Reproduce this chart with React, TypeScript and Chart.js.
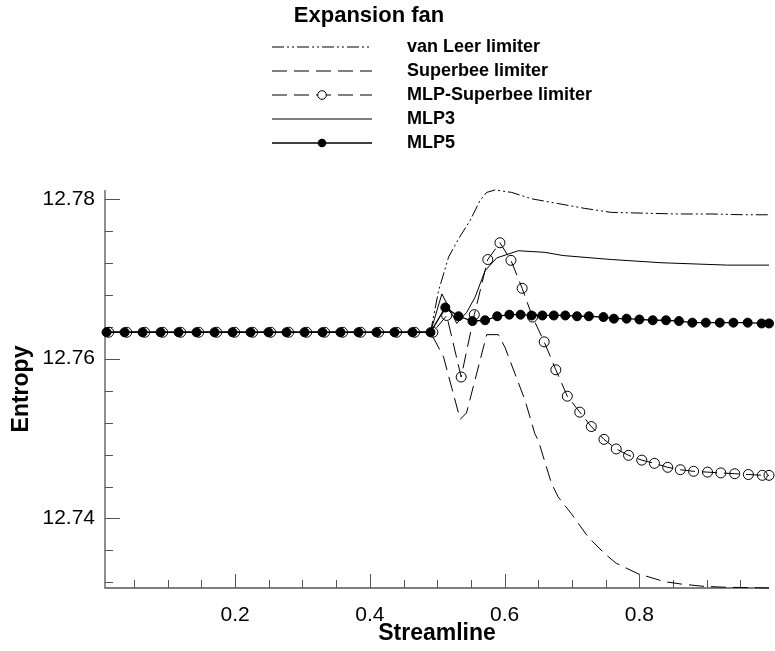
import React, { useEffect, useRef } from 'react';
import { Chart, registerables } from 'chart.js';

Chart.register(...registerables);

const FONT = '"Liberation Sans", Arial, Helvetica, sans-serif';

const TITLE = 'Expansion fan';
const X_TITLE = 'Streamline';
const Y_TITLE = 'Entropy';

const SERIES_NAMES = ['van Leer limiter', 'Superbee limiter', 'MLP-Superbee limiter', 'MLP3', 'MLP5'];

// van Leer limiter
const vanLeerX = [0.007, 0.49, 0.502, 0.5168, 0.5316, 0.5489, 0.5636, 0.5734, 0.5858, 0.6103, 0.64, 0.6794, 0.7188, 0.7582, 0.8075, 0.8568, 0.906, 0.9553, 0.9923];
const vanLeerY = [12.7633, 12.7633, 12.7685, 12.7727, 12.775, 12.7773, 12.7798, 12.7808, 12.7811, 12.7808, 12.78, 12.7794, 12.7788, 12.7783, 12.7782, 12.7781, 12.7781, 12.778, 12.778];

// Superbee limiter
const superbeeX = [0.007, 0.49, 0.5094, 0.534, 0.5434, 0.5734, 0.5907, 0.6006, 0.6154, 0.6302, 0.6449, 0.6498, 0.6695, 0.6794, 0.699, 0.7237, 0.7484, 0.7655, 0.7976, 0.837, 0.8616, 0.8962, 0.9258, 0.9923];
const superbeeY = [12.7633, 12.7633, 12.7602, 12.7524, 12.7532, 12.763, 12.763, 12.7614, 12.7581, 12.7548, 12.7506, 12.7498, 12.7444, 12.7427, 12.7406, 12.7377, 12.7356, 12.7344, 12.7331, 12.7321, 12.7318, 12.7315, 12.7314, 12.7313];

// MLP-Superbee limiter
const mlpSbX = [0.0125, 0.0392, 0.0659, 0.0926, 0.1193, 0.146, 0.1727, 0.1994, 0.2261, 0.2528, 0.2795, 0.3062, 0.3329, 0.3596, 0.3863, 0.413, 0.4397, 0.4664, 0.4935,
  0.514, 0.5355, 0.555, 0.575, 0.593, 0.6094, 0.626, 0.6414, 0.6587, 0.676, 0.693, 0.7115, 0.7286, 0.7474, 0.7656, 0.7839, 0.8035, 0.8223, 0.842, 0.8607, 0.8804, 0.9011, 0.9208, 0.9415, 0.9617, 0.9824, 0.9923];
const mlpSbY = [12.7633, 12.7633, 12.7633, 12.7633, 12.7633, 12.7633, 12.7633, 12.7633, 12.7633, 12.7633, 12.7633, 12.7633, 12.7633, 12.7633, 12.7633, 12.7633, 12.7633, 12.7633, 12.7633,
  12.7654, 12.7577, 12.7655, 12.7724, 12.7745, 12.7723, 12.7688, 12.7652, 12.7621, 12.7586, 12.7553, 12.7533, 12.7515, 12.7499, 12.7487, 12.7479, 12.7473, 12.7469, 12.7464, 12.7461, 12.7459, 12.7458, 12.7457, 12.7456, 12.7455, 12.7454, 12.7454];

// MLP3
const mlp3X = [0.007, 0.49, 0.5069, 0.529, 0.5438, 0.5562, 0.571, 0.5882, 0.6202, 0.6597, 0.6868, 0.7582, 0.832, 0.9307, 0.9923];
const mlp3Y = [12.7633, 12.7633, 12.7681, 12.7644, 12.7658, 12.7677, 12.771, 12.7726, 12.7735, 12.7733, 12.7729, 12.7724, 12.772, 12.7717, 12.7717];

// MLP5
const mlp5X = [0.0093, 0.036, 0.0627, 0.0894, 0.1161, 0.1428, 0.1695, 0.1962, 0.2229, 0.2496, 0.2763, 0.303, 0.3297, 0.3564, 0.3831, 0.4098, 0.4365, 0.4632, 0.49,
  0.512, 0.5316, 0.5522, 0.571, 0.589, 0.607, 0.6237, 0.64, 0.656, 0.673, 0.69, 0.7075, 0.725, 0.7466, 0.7621, 0.781, 0.8, 0.8198, 0.8395, 0.8587, 0.8785, 0.8986, 0.9193, 0.9395, 0.9607, 0.9814, 0.9923];
const mlp5Y = [12.7633, 12.7633, 12.7633, 12.7633, 12.7633, 12.7633, 12.7633, 12.7633, 12.7633, 12.7633, 12.7633, 12.7633, 12.7633, 12.7633, 12.7633, 12.7633, 12.7633, 12.7633, 12.7633,
  12.7664, 12.7653, 12.7647, 12.7648, 12.7653, 12.7655, 12.7655, 12.7654, 12.7654, 12.7654, 12.7654, 12.7653, 12.7653, 12.7652, 12.765, 12.765, 12.7649, 12.7648, 12.7648, 12.7647, 12.7645, 12.7645, 12.7645, 12.7645, 12.7645, 12.7644, 12.7644];

// Axis ticks: all tick positions, and the labelled (major) ones
const X_TICKS = [0.05, 0.1, 0.15, 0.2, 0.25, 0.3, 0.35, 0.4, 0.45, 0.5, 0.55, 0.6, 0.65, 0.7, 0.75, 0.8, 0.85, 0.9, 0.95];
const X_MAJOR = [0.2, 0.4, 0.6, 0.8];
const X_LABELS = ['0.2', '0.4', '0.6', '0.8'];
const Y_TICKS = [12.732, 12.736, 12.74, 12.744, 12.748, 12.752, 12.756, 12.76, 12.764, 12.768, 12.772, 12.776, 12.78];
const Y_MAJOR = [12.74, 12.76, 12.78];
const Y_LABELS = ['12.74', '12.76', '12.78'];

const X_MIN = 0.007, X_MAX = 0.9923;
const Y_MIN = 12.7313, Y_MAX = 12.7811;

const DASH_VANLEER = [12, 3, 2, 3, 2, 3];
const DASH_SUPERBEE = [15, 7];

const pts = (xs: number[], ys: number[]) => xs.map((x, i) => ({ x, y: ys[i] }));

const STYLES = [
  { dash: DASH_VANLEER, marker: null as null | 'open' | 'filled', width: 1 },
  { dash: DASH_SUPERBEE, marker: null, width: 1 },
  { dash: DASH_SUPERBEE, marker: 'open', width: 1 },
  { dash: [] as number[], marker: null, width: 1 },
  { dash: [] as number[], marker: 'filled', width: 1.3 },
];

const majorIndex = (v: number, majors: number[]) => majors.findIndex((m) => Math.abs(m - v) < 1e-7);
const labelFor = (v: number, majors: number[], labels: string[]) => {
  const i = majorIndex(v, majors);
  return i >= 0 ? labels[i] : '';
};

const decorPlugin = {
  id: 'decor',
  beforeDatasetsDraw(chart: any) {
    const ctx = chart.ctx;
    const { left, right, top, bottom } = chart.chartArea;
    const xs = chart.scales.x;
    const ys = chart.scales.y;
    ctx.save();
    ctx.strokeStyle = '#555';
    ctx.lineWidth = 1.3;
    ctx.setLineDash([]);
    ctx.beginPath();
    ctx.moveTo(left, top);
    ctx.lineTo(left, bottom);
    ctx.lineTo(right, bottom);
    ctx.stroke();
    ctx.lineWidth = 1;
    ctx.beginPath();
    for (const v of X_TICKS) {
      const px = Math.round(xs.getPixelForValue(v)) + 0.5;
      const major = majorIndex(v, X_MAJOR) >= 0;
      ctx.moveTo(px, bottom);
      ctx.lineTo(px, bottom - (major ? 14 : 8));
    }
    for (const v of Y_TICKS) {
      const py = Math.round(ys.getPixelForValue(v)) + 0.5;
      const major = majorIndex(v, Y_MAJOR) >= 0;
      ctx.moveTo(left, py);
      ctx.lineTo(left + (major ? 15 : 8), py);
    }
    ctx.stroke();
    ctx.restore();
  },
  afterDraw(chart: any) {
    const ctx = chart.ctx;
    ctx.save();
    ctx.fillStyle = '#000';
    ctx.textAlign = 'center';
    ctx.textBaseline = 'middle';
    ctx.font = `bold 22px ${FONT}`;
    ctx.fillText(TITLE, 369, 16);

    // legend
    const rowsY = [47, 71, 95, 119, 143];
    SERIES_NAMES.forEach((name, i) => {
      const y = rowsY[i];
      const st = STYLES[i];
      ctx.strokeStyle = '#000';
      ctx.lineWidth = st.width;
      ctx.setLineDash(st.dash);
      ctx.beginPath();
      ctx.moveTo(272, y);
      ctx.lineTo(372, y);
      ctx.stroke();
      ctx.setLineDash([]);
      if (st.marker) {
        ctx.beginPath();
        ctx.arc(322, y, 4.3, 0, Math.PI * 2);
        if (st.marker === 'filled') {
          ctx.fillStyle = '#000';
          ctx.fill();
        } else {
          ctx.fillStyle = '#fff';
          ctx.fill();
          ctx.lineWidth = 1;
          ctx.stroke();
        }
      }
      ctx.fillStyle = '#000';
      ctx.textAlign = 'left';
      ctx.font = `bold 18px ${FONT}`;
      ctx.fillText(name, 407, y);
    });

    // axis titles
    const { left, right, top, bottom } = chart.chartArea;
    ctx.textAlign = 'center';
    ctx.font = `bold 23px ${FONT}`;
    ctx.fillText(X_TITLE, (left + right) / 2, 634);
    ctx.translate(22, (top + bottom) / 2);
    ctx.rotate(-Math.PI / 2);
    ctx.fillText(Y_TITLE, 0, 0);
    ctx.restore();
  },
};

export default function App() {
  const ref = useRef<HTMLCanvasElement | null>(null);
  useEffect(() => {
    if (!ref.current) return;
    const data = [
      pts(vanLeerX, vanLeerY),
      pts(superbeeX, superbeeY),
      pts(mlpSbX, mlpSbY),
      pts(mlp3X, mlp3Y),
      pts(mlp5X, mlp5Y),
    ];
    const datasets = SERIES_NAMES.map((name, i) => {
      const st = STYLES[i];
      return {
        label: name,
        data: data[i],
        borderColor: '#000',
        borderWidth: st.width,
        borderDash: st.dash,
        tension: 0,
        fill: false,
        clip: false as any,
        pointRadius: st.marker ? (st.marker === 'filled' ? 4.5 : 5) : 0,
        pointBorderWidth: 1,
        pointBorderColor: '#000',
        pointBackgroundColor: st.marker === 'filled' ? '#000' : 'rgba(0,0,0,0)',
        pointHoverRadius: 0,
      };
    });
    const chart = new Chart(ref.current, {
      type: 'line',
      data: { datasets },
      plugins: [decorPlugin],
      options: {
        animation: false,
        responsive: false,
        devicePixelRatio: 1,
        layout: { padding: { top: 190, left: 0, right: 3, bottom: 0 } },
        plugins: { legend: { display: false }, title: { display: false }, tooltip: { enabled: false } },
        scales: {
          x: {
            type: 'linear',
            min: X_MIN,
            max: X_MAX,
            afterFit: (s: any) => { s.height = 63; },
            afterBuildTicks: (s: any) => { s.ticks = X_TICKS.map((v) => ({ value: v })); },
            grid: { display: false, drawTicks: false, tickLength: 0 },
            border: { display: false },
            ticks: {
              autoSkip: false,
              maxRotation: 0,
              padding: 15,
              color: '#000',
              font: { family: FONT, size: 21 },
              callback: (v: any) => labelFor(Number(v), X_MAJOR, X_LABELS),
            },
          },
          y: {
            type: 'linear',
            min: Y_MIN,
            max: Y_MAX,
            afterFit: (s: any) => { s.width = 105; },
            afterBuildTicks: (s: any) => { s.ticks = Y_TICKS.map((v) => ({ value: v })); },
            grid: { display: false, drawTicks: false, tickLength: 0 },
            border: { display: false },
            ticks: {
              autoSkip: false,
              padding: 10,
              color: '#000',
              font: { family: FONT, size: 21 },
              callback: (v: any) => labelFor(Number(v), Y_MAJOR, Y_LABELS),
            },
          },
        },
      } as any,
    });
    return () => chart.destroy();
  }, []);
  return (
    <div style={{ position: 'absolute', left: 0, top: 0, width: 775, height: 651, background: '#fff' }}>
      <canvas ref={ref} width={775} height={651} style={{ display: 'block' }} />
    </div>
  );
}
